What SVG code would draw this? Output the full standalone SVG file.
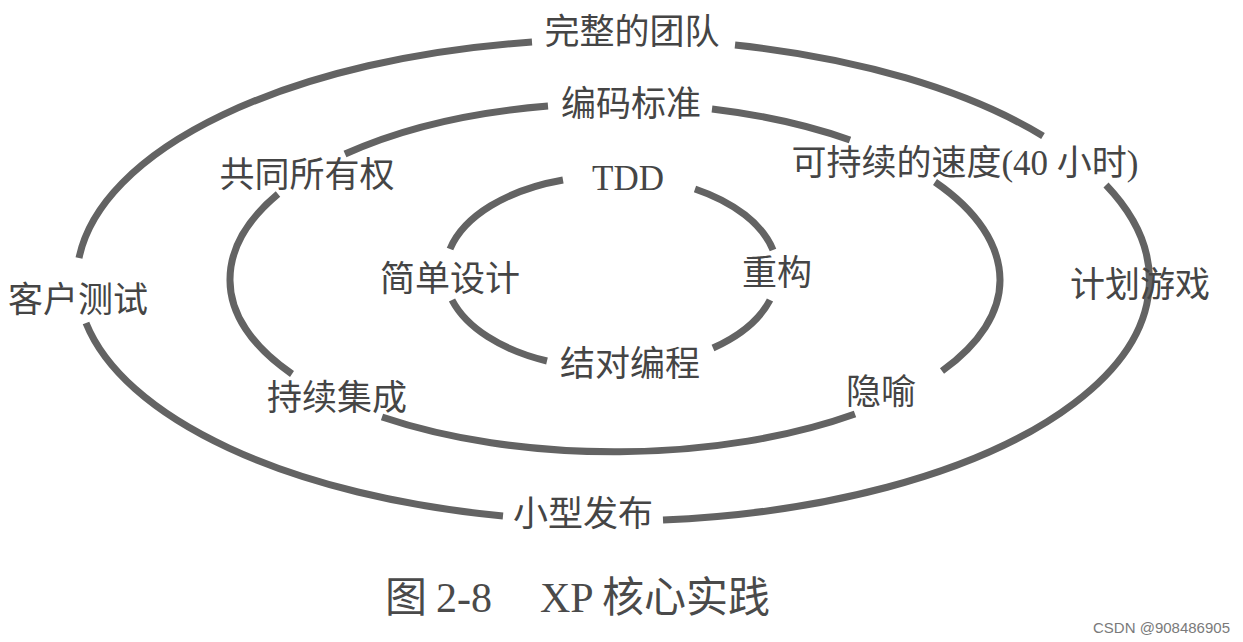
<svg xmlns="http://www.w3.org/2000/svg" width="1243" height="642" viewBox="0 0 1243 642">
  <style>
    .ring { fill: none; stroke: #636363; stroke-width: 7; stroke-linecap: butt; }
    .lbl { font-family: "Liberation Serif", "Noto Sans CJK SC", serif; font-size: 35px; fill: #454545; text-anchor: middle; }
    .cap { font-family: "Liberation Serif", "Noto Sans CJK SC", serif; font-size: 42px; fill: #4a4a4a; }
    .wm { font-family: "Liberation Sans", Arial, sans-serif; font-size: 15px; fill: #7a7a7a; text-anchor: end; }
  </style>
  <rect x="0" y="0" width="1243" height="642" fill="#ffffff"/>

  <g id="connectors">
    <!-- outer ring -->
    <path class="ring" d="M 735 45 A 536 241 0 0 1 1043 136"/>
    <path class="ring" d="M 1106 185 A 536 241 0 0 1 663 520"/>
    <path class="ring" d="M 503 516 A 536 241 0 0 1 86 323"/>
    <path class="ring" d="M 79 258 A 536 241 0 0 1 532 42"/>
    <!-- middle ring -->
    <path class="ring" d="M 712 109 A 385 177 0 0 1 850 140"/>
    <path class="ring" d="M 935 182 A 385 177 0 0 1 1000 280 A 385 172 0 0 1 942 371"/>
    <path class="ring" d="M 855 414 A 385 172 0 0 1 382 417"/>
    <path class="ring" d="M 292 374 A 385 172 0 0 1 230 280 A 385 177 0 0 1 278 194"/>
    <path class="ring" d="M 345 154 A 385 177 0 0 1 548 106"/>
    <!-- inner ring -->
    <path class="ring" d="M 695 189 A 166 96 0 0 1 773 250"/>
    <path class="ring" d="M 770 300 A 166 96 0 0 1 713 348"/>
    <path class="ring" d="M 547 361 A 166 96 0 0 1 452 300"/>
    <path class="ring" d="M 450 249 A 166 96 0 0 1 563 180"/>
  </g>

  <g id="node-whole-team"><text class="lbl" x="632" y="44">完整的团队</text></g>
  <g id="node-coding-standard"><text class="lbl" x="631" y="116">编码标准</text></g>
  <g id="node-collective-ownership"><text class="lbl" x="307" y="187">共同所有权</text></g>
  <g id="node-sustainable-pace"><text class="lbl" x="965" y="175">可持续的速度(40 小时)</text></g>
  <g id="node-tdd"><text class="lbl" x="628" y="190">TDD</text></g>
  <g id="node-simple-design"><text class="lbl" x="450" y="291">简单设计</text></g>
  <g id="node-refactoring"><text class="lbl" x="777" y="285">重构</text></g>
  <g id="node-customer-tests"><text class="lbl" x="78" y="312">客户测试</text></g>
  <g id="node-planning-game"><text class="lbl" x="1140" y="297">计划游戏</text></g>
  <g id="node-pair-programming"><text class="lbl" x="630" y="376">结对编程</text></g>
  <g id="node-continuous-integration"><text class="lbl" x="337" y="410">持续集成</text></g>
  <g id="node-metaphor"><text class="lbl" x="881" y="404">隐喻</text></g>
  <g id="node-small-releases"><text class="lbl" x="583" y="526">小型发布</text></g>

  <g id="caption">
    <text class="cap" y="612"><tspan x="385">图</tspan><tspan x="436">2-8</tspan><tspan x="540">XP</tspan><tspan x="602">核心实践</tspan></text>
  </g>
  <g id="watermark"><text class="wm" x="1230" y="633">CSDN @908486905</text></g>
</svg>
